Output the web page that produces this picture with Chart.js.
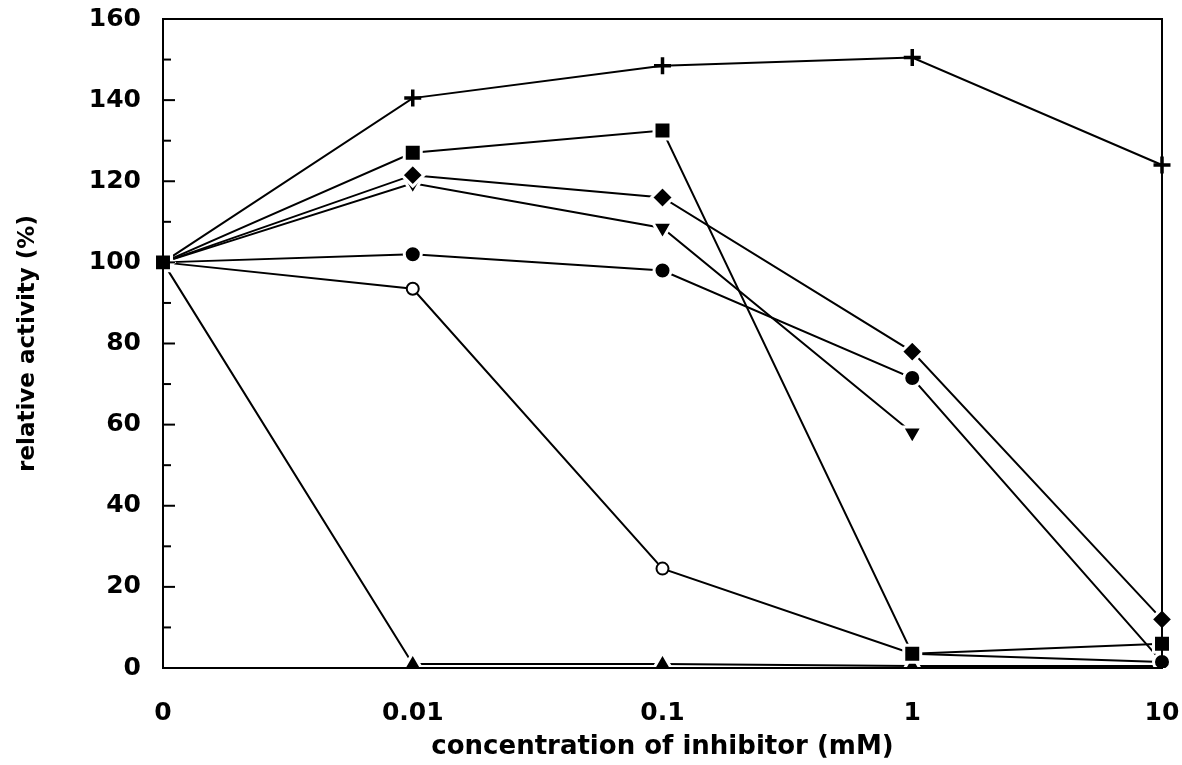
<!DOCTYPE html>
<html>
<head>
<meta charset="utf-8">
<script src="https://cdn.jsdelivr.net/npm/chart.js@4"></script>
<style>
  html, body { margin: 0; padding: 0; background: #fff; }
  #wrap { width: 1182px; height: 765px; }
</style>
</head>
<body>
<div id="wrap"><canvas id="chart" width="1182" height="765"></canvas></div>
<script>
// Datos
const concentrations = ['0', '0.01', '0.1', '1', '10'];
const plusSeries     = [100, 140.5, 148.5, 150.5, 124];
const squareSeries   = [100, 127, 132.5, 3.5, 6];
const diamondSeries  = [100, 121.5, 116, 78, 12];
const downTriSeries  = [100, 119.5, 108.5, 58, null];
const circleSeries   = [100, 102, 98, 71.5, 1.5];
const openCircSeries = [100, 93.5, 24.5, 3.5, 1.5];
const upTriSeries    = [100, 1, 1, 0.5, 0.5];
const yTicks = [0, 20, 40, 60, 80, 100, 120, 140, 160];

const FONT = '"DejaVu Sans", Verdana, sans-serif';

function series(data, style, radius, extra) {
    return Object.assign({
        data,
        borderColor: '#000',
        borderWidth: 2,
        pointStyle: style,
        pointRadius: radius,
        pointBackgroundColor: '#000',
        pointBorderColor: '#fff',
        pointBorderWidth: 3,
        tension: 0,
        fill: false
    }, extra || {});
}

// Marco del grafico y marcas interiores del eje Y
const framePlugin = {
    id: 'frame',
    afterDraw(chart) {
        const { ctx, chartArea: a, scales } = chart;
        ctx.save();
        ctx.strokeStyle = '#000';
        ctx.lineWidth = 2;
        ctx.strokeRect(a.left, a.top, a.right - a.left, a.bottom - a.top);
        for (let v = 0; v <= 160; v += 10) {
            const y = scales.y.getPixelForValue(v);
            const len = v % 20 === 0 ? 12 : 8;
            ctx.beginPath();
            ctx.moveTo(a.left, y);
            ctx.lineTo(a.left + len, y);
            ctx.stroke();
        }
        ctx.restore();
    }
};

const chart = new Chart(document.getElementById('chart'), {
    type: 'line',
    data: {
        labels: concentrations,
        datasets: [
            series(squareSeries, 'rect', 12),
            series(plusSeries, 'cross', 8.5, { pointBorderColor: '#000', pointBorderWidth: 3.5 }),
            series(diamondSeries, 'rectRot', 11),
            series(downTriSeries, 'triangle', 11.5, { pointRotation: 180 }),
            series(circleSeries, 'circle', 8.5),
            series(openCircSeries, 'circle', 6, { pointBackgroundColor: '#fff', pointBorderColor: '#000', pointBorderWidth: 2 }),
            series(upTriSeries, 'triangle', 11)
        ]
    },
    options: {
        responsive: false,
        devicePixelRatio: 1,
        animation: false,
        layout: { padding: { left: 0, right: 20, top: 19, bottom: 0 } },
        plugins: {
            legend: { display: false },
            tooltip: { enabled: false }
        },
        scales: {
            x: {
                type: 'category',
                offset: false,
                grid: { display: false, drawTicks: false },
                border: { display: false },
                ticks: {
                    color: '#000',
                    padding: 30,
                    maxRotation: 0,
                    font: { family: FONT, size: 25, weight: 'bold' }
                },
                title: {
                    display: true,
                    text: 'concentration of inhibitor (mM)',
                    color: '#000',
                    padding: { top: 0, bottom: 2 },
                    font: { family: FONT, size: 26, weight: 'bold' }
                },
                afterFit(scale) {
                    scale.height = 97;
                    scale.paddingLeft = 0;
                    scale.paddingRight = 0;
                }
            },
            y: {
                min: 0,
                max: 160,
                afterBuildTicks(scale) { scale.ticks = yTicks.map(v => ({ value: v })); },
                grid: { display: false, drawTicks: false },
                border: { display: false },
                ticks: {
                    color: '#000',
                    padding: 22,
                    font: { family: FONT, size: 25, weight: 'bold' }
                },
                title: {
                    display: true,
                    text: 'relative activity (%)',
                    color: '#000',
                    padding: { top: 14, bottom: 0 },
                    font: { family: FONT, size: 23, weight: 'bold' }
                },
                afterFit(scale) {
                    scale.width = 163;
                    scale.paddingTop = 0;
                    scale.paddingBottom = 0;
                }
            }
        }
    },
    plugins: [framePlugin]
});
</script>
</body>
</html>
